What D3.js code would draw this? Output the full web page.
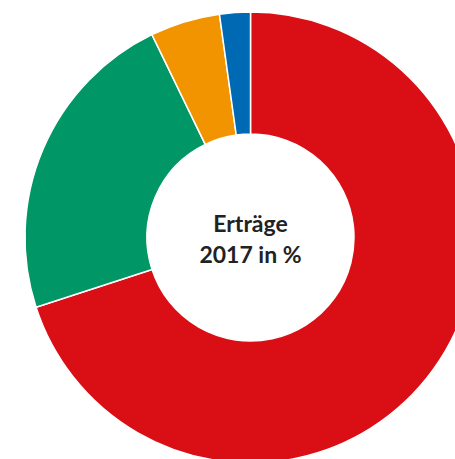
<!DOCTYPE html>
<html><head><meta charset="utf-8">
<script src="https://cdn.jsdelivr.net/npm/d3@7"></script>
<style>html,body{margin:0;padding:0;background:#fff;overflow:hidden}</style>
</head><body>
<svg id="c" width="455" height="459"></svg>
<script>
const categories = ["Rot", "Grün", "Orange", "Blau"];
const values = [70.0, 22.8, 5.0, 2.2];
const colors = ["#DA0F16", "#009665", "#F29400", "#0069B4"];
const titleLines = ["Erträge", "2017 in %"];

const svg = d3.select("#c");
const cx = 250.5, cy = 237.5, R = 225.5, r = 103.5;
const g = svg.append("g").attr("transform", `translate(${cx},${cy})`);
const pie = d3.pie().sort(null).value(d => d.v);
const arc = d3.arc().innerRadius(r).outerRadius(R);
const data = categories.map((c, i) => ({c, v: values[i], col: colors[i]}));
g.selectAll("path").data(pie(data)).join("path")
  .attr("d", arc).attr("fill", d => d.data.col)
  .attr("stroke", "#fff").attr("stroke-width", 1.5);
g.selectAll("text").data(titleLines).join("text")
  .attr("x", 0).attr("y", (d, i) => -6 + i * 31.6)
  .attr("text-anchor", "middle")
  .attr("font-family", "Lato, 'Open Sans', sans-serif")
  .attr("font-weight", 700).attr("font-size", 23)
  .attr("fill", "#222").text(d => d);
</script>
</body></html>
